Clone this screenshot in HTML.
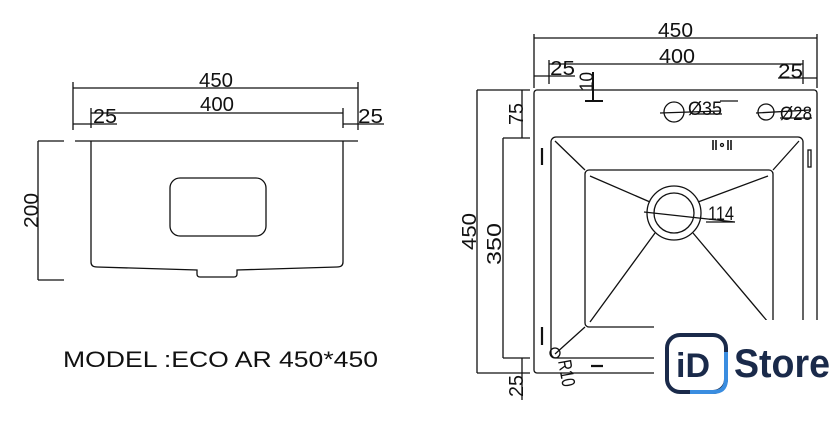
<!DOCTYPE html>
<html><head><style>
body{margin:0;background:#fff;width:840px;height:421px;overflow:hidden}
svg{position:absolute;left:0;top:0}
text{font-family:"Liberation Sans",sans-serif;fill:#111}
</style></head><body>
<svg width="840" height="421" viewBox="0 0 840 421">
<g stroke="#111" stroke-width="1.3" fill="none">
<path d="M73 88H358M73 82V130M358 82V130M91 113H343M91 108V128M343 108V128M73 124H117M343 124H384M75 141H358"/>
<path d="M91 141V262Q91 267 97 267L197 270V274Q197 277 200 277H234Q237 277 237 274V270L337 267Q343 267 343 262V141"/>
<rect x="170" y="178" width="96" height="58" rx="10"/>
<path d="M38 141V280M38 141H64M38 280H64"/>
<path d="M534 38H817M534 34V88M817 34V88M549 64H803M549 60V84M803 60V84M534 76H575M778 78H817"/>
<path d="M477 90H530M477 90V373M477 373H530M522 90V138M503 138H530M503 138V358M503 358H530M522 358V400"/>
<rect x="534" y="90" width="283" height="283" rx="3"/>
<rect x="551" y="137" width="252" height="221" rx="5"/>
<rect x="585" y="170" width="188" height="157" rx="4"/>
<path d="M555 141L585 170M799 141L773 170M555 354L585 327M799 354L773 327"/>
<path d="M590 176L650 202M768 176L698 202M590 322L655 233M768 322L693 233"/>
<circle cx="674" cy="213" r="27"/><circle cx="674" cy="213" r="20"/>
<path d="M644 212L735 222M706 222H735"/>
<path d="M593 72V101M585 101H603" stroke-width="2"/>
<circle cx="674" cy="112" r="10"/><path d="M660 113L720 111M692 114H722M720 101H738" />
<circle cx="766" cy="112" r="8"/><path d="M756 113L810 110M780 118H812"/>
<path d="M542 148V165M542 327V345M591 366H603" stroke-width="2.2"/>
<rect x="808" y="150" width="3" height="17"/>
<path d="M713 140V150M716 140V150M728 140V150M731 140V150" stroke-width="1.6"/>
<circle cx="722" cy="145" r="1.5"/>
<circle cx="555" cy="353" r="5"/>
</g>
<g font-size="20">
<text x="199" y="87" textLength="34" lengthAdjust="spacingAndGlyphs">450</text>
<text x="200" y="111" textLength="34" lengthAdjust="spacingAndGlyphs">400</text>
<text x="93" y="123" textLength="24" lengthAdjust="spacingAndGlyphs">25</text>
<text x="358" y="123" textLength="25" lengthAdjust="spacingAndGlyphs">25</text>
<text transform="translate(38,228) rotate(-90)" textLength="35" lengthAdjust="spacingAndGlyphs">200</text>
<text x="658" y="37" textLength="35" lengthAdjust="spacingAndGlyphs">450</text>
<text x="659" y="63" textLength="36" lengthAdjust="spacingAndGlyphs">400</text>
<text x="550" y="75" textLength="25" lengthAdjust="spacingAndGlyphs">25</text>
<text x="778" y="78" textLength="25" lengthAdjust="spacingAndGlyphs">25</text>
<text transform="translate(476,250) rotate(-90)" textLength="37" lengthAdjust="spacingAndGlyphs">450</text>
<text transform="translate(501,265) rotate(-90)" textLength="42" lengthAdjust="spacingAndGlyphs">350</text>
<text transform="translate(523,125) rotate(-90)" textLength="22" lengthAdjust="spacingAndGlyphs">75</text>
<text transform="translate(523,397) rotate(-90)" textLength="22" lengthAdjust="spacingAndGlyphs">25</text>
</g>
<g font-size="19">
<text transform="translate(593,91) rotate(-90)" textLength="19" lengthAdjust="spacingAndGlyphs">10</text>
<text x="688" y="115" textLength="34" lengthAdjust="spacingAndGlyphs">Ø35</text>
<text x="780" y="120" textLength="32" lengthAdjust="spacingAndGlyphs">Ø28</text>
<text x="708" y="220" textLength="26" lengthAdjust="spacingAndGlyphs">114</text>
<text transform="translate(558,361) rotate(80)" textLength="27" lengthAdjust="spacingAndGlyphs">R10</text>
</g>
<text x="63" y="367" font-size="22" textLength="315" lengthAdjust="spacingAndGlyphs">MODEL :ECO AR 450*450</text>
<rect x="654" y="320" width="186" height="101" fill="#fff"/>
<rect x="667" y="335" width="59" height="57" rx="13" fill="#fff" stroke="#1a2a4a" stroke-width="4"/>
<path d="M690 392H713Q726 392 726 379V352" stroke="#3a8de0" stroke-width="4" fill="none"/>
<text x="676" y="377" font-size="34" font-weight="bold" style="fill:#1a2a4a">iD</text>
<text x="734" y="377" font-size="40" font-weight="bold" style="fill:#1a2a4a" textLength="96" lengthAdjust="spacingAndGlyphs">Store</text>
</svg>
</body></html>
